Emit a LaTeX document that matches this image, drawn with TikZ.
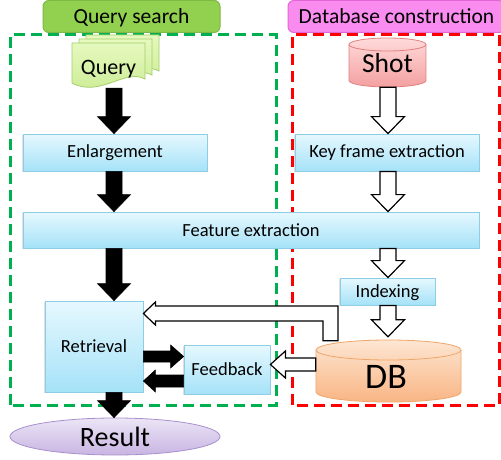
\documentclass[tikz,border=0pt]{standalone}
\usepackage{fontspec}
\setmainfont{Carlito}
\usetikzlibrary{calc,shapes.geometric,shadows}
\definecolor{gdash}{HTML}{00B050}
\definecolor{rdash}{HTML}{FF0000}
\definecolor{qsfill}{HTML}{92D050}
\definecolor{qsdraw}{HTML}{7DB944}
\definecolor{dbhfill}{HTML}{FA8CF0}
\definecolor{dbhdraw}{HTML}{E266D6}
\definecolor{boxT}{HTML}{E6F8FE}
\definecolor{boxB}{HTML}{A5E2F8}
\definecolor{boxD}{HTML}{8DCDE6}
\definecolor{docT}{HTML}{E6F8BE}
\definecolor{docB}{HTML}{C9EB91}
\definecolor{docD}{HTML}{A3CF6A}
\definecolor{shotT}{HTML}{FFDADA}
\definecolor{shotB}{HTML}{F4A0A0}
\definecolor{shotD}{HTML}{E08080}
\definecolor{dbT}{HTML}{FDE6D2}
\definecolor{dbB}{HTML}{F9B584}
\definecolor{dbD}{HTML}{EFA66A}
\definecolor{resT}{HTML}{ECE5F6}
\definecolor{resB}{HTML}{C8B5E2}
\definecolor{resD}{HTML}{A890CE}

\newcommand\downarr[3][]{\draw[#1] let \p1=#2, \p2=#3 in (\x1-8pt,\y1) -- (\x1-8pt,\y2+17pt) -- (\x1-16.5pt,\y2+17pt) -- (\x1,\y2) -- (\x1+16.5pt,\y2+17pt) -- (\x1+8pt,\y2+17pt) -- (\x1+8pt,\y1) -- cycle;}
\newcommand\rarr[6][]{\draw[#1] let \p1=#2, \p2=#3 in (\x1,\y1-#4) -- (\x2-#6,\y1-#4) -- (\x2-#6,\y1-#5) -- (\x2,\y1) -- (\x2-#6,\y1+#5) -- (\x2-#6,\y1+#4) -- (\x1,\y1+#4) -- cycle;}
\newcommand\larr[6][]{\draw[#1] let \p1=#2, \p2=#3 in (\x1,\y1-#4) -- (\x2+#6,\y1-#4) -- (\x2+#6,\y1-#5) -- (\x2,\y1) -- (\x2+#6,\y1+#5) -- (\x2+#6,\y1+#4) -- (\x1,\y1+#4) -- cycle;}

\begin{document}
\begin{tikzpicture}[x=1pt,y=1pt, font=\fontsize{18.5}{22}\selectfont,
  proc/.style={draw=boxD, line width=0.8pt, top color=boxT, bottom color=boxB, inner sep=0pt,
    drop shadow={shadow xshift=-1pt, shadow yshift=-1.2pt, opacity=0.25}},
  blk/.style={fill=black, draw=black, line width=0.6pt},
  hol/.style={fill=white, draw=black, line width=1.2pt, line join=miter},
  dashbox/.style={line width=3pt, dash pattern=on 11pt off 6pt},
  hdr/.style={rounded corners=6pt, line width=1pt, inner sep=0pt, text depth=0pt, font=\fontsize{21.5}{24}\selectfont}]
\useasboundingbox (0,0) rectangle (501,459);
\fill[white] (0,0) rectangle (501,459);
\coordinate (lx) at (114,0);
\coordinate (rx) at (388,0);
\coordinate (ya) at (0,102.5);
\coordinate (yb) at (0,78);
\coordinate (yc) at (0,94.5);
\coordinate (lv) at (330.5,0);
\coordinate (lh) at (0,145.5);

% dashed regions
\draw[dashbox, gdash] (10,54) rectangle (276,424);
\draw[dashbox, rdash] (292,54) rectangle (499.5,424);

% headers
\node[hdr, draw=qsdraw, fill=qsfill, minimum width=177pt, minimum height=32pt] (qsh) at (131.5,442.5) {Query search};
\node[hdr, draw=dbhdraw, fill=dbhfill, minimum width=217pt, minimum height=32pt] (dbh) at (396.5,442.5) {Database construction};

% query documents
\foreach \d in {2,1,0} {
  \draw[docD, line width=0.8pt, top color=docT, bottom color=docB, shift={(7*\d,4*\d)}]
    (72,416) -- (145,416) -- (145,380) .. controls (125,391) and (100,361) .. (72,376) -- cycle;
}
\node[inner sep=0pt, minimum width=73pt, minimum height=37.6pt, font=\fontsize{22}{24}\selectfont] (query) at (108.5,389.8) {Query};

% shot cylinder
\draw[shotD, line width=0.8pt, top color=shotT, bottom color=shotB]
  (349,414.5) -- (349,378.5) arc[start angle=180, end angle=360, x radius=38.5, y radius=6.5]
  -- (426,414.5) arc[start angle=0, end angle=180, x radius=38.5, y radius=6.5] -- cycle;
\draw[shotD, line width=0.8pt] (349,414.5) arc[start angle=180, end angle=360, x radius=38.5, y radius=6.5];
\node[inner sep=0pt, minimum width=77pt, minimum height=48pt, font=\fontsize{27.5}{30}\selectfont] (shot) at (387.5,396) {Shot};

% process boxes
\node[proc, minimum width=184pt, minimum height=37pt] (enl) at (115,306.5) {Enlargement};
\node[proc, minimum width=184pt, minimum height=37pt] (kfe) at (387,306.5) {Key frame extraction};
\node[proc, minimum width=456pt, minimum height=36pt] (fex) at (251,229) {Feature extraction};
\node[proc, text depth=0pt, minimum width=95pt, minimum height=27pt] (idx) at (387.5,167.5) {Indexing};
\node[proc, minimum width=98pt, minimum height=91pt] (ret) at (94,112.5) {Retrieval};
\node[proc, minimum width=86pt, minimum height=49pt] (fb) at (227,89.5) {Feedback};

% DB cylinder
\draw[dbD, line width=0.8pt, top color=dbT, bottom color=dbB]
  (316,109) -- (316,67) arc[start angle=180, end angle=360, x radius=72.5, y radius=10]
  -- (461,109) arc[start angle=0, end angle=180, x radius=72.5, y radius=10] -- cycle;
\draw[dbD, line width=0.8pt] (316,109) arc[start angle=180, end angle=360, x radius=72.5, y radius=10];
\node[inner sep=0pt, minimum width=140pt, minimum height=79pt, font=\fontsize{36}{38}\selectfont] (db) at (386,82.5) {DB};

% result
\node[ellipse, draw=resD, line width=0.8pt, top color=resT, bottom color=resB, minimum width=210pt, minimum height=37pt, inner sep=0pt, font=\fontsize{28}{30}\selectfont] (res) at (115,22.5) {Result};

% black arrows
\downarr[blk]{(query.south -| lx)}{(enl.north -| lx)}
\downarr[blk]{(enl.south -| lx)}{(fex.north -| lx)}
\downarr[blk]{(fex.south -| lx)}{(ret.north -| lx)}
\downarr[blk]{(ret.south -| lx)}{(res.north -| lx)}
\rarr[blk]{(ret.east |- ya)}{(fb.west |- ya)}{5.5pt}{11.5pt}{13pt}
\larr[blk]{(fb.west |- yb)}{(ret.east |- yb)}{6pt}{11pt}{12pt}

% hollow arrows
\downarr[hol]{(shot.south -| rx)}{(kfe.north -| rx)}
\downarr[hol]{(kfe.south -| rx)}{(fex.north -| rx)}
\downarr[hol]{(fex.south -| rx)}{(idx.north -| rx)}
\downarr[hol]{(idx.south -| rx)}{(db.north -| rx)}
\larr[hol]{(db.west |- yc)}{(fb.east |- yc)}{6.5pt}{13.5pt}{15pt}
\draw[hol] let \p1=(db.north -| lv), \p2=(ret.east |- lh) in
  (\x1+7.5pt,\y1-4pt) -- (\x1+7.5pt,\y2+7.5pt) -- (\x2+12pt,\y2+7.5pt) -- (\x2+12pt,\y2+11.5pt)
  -- (\x2,\y2) -- (\x2+12pt,\y2-11.5pt) -- (\x2+12pt,\y2-7.5pt) -- (\x1-7.5pt,\y2-7.5pt)
  -- (\x1-7.5pt,\y1-4pt) -- cycle;
\end{tikzpicture}
\end{document}
